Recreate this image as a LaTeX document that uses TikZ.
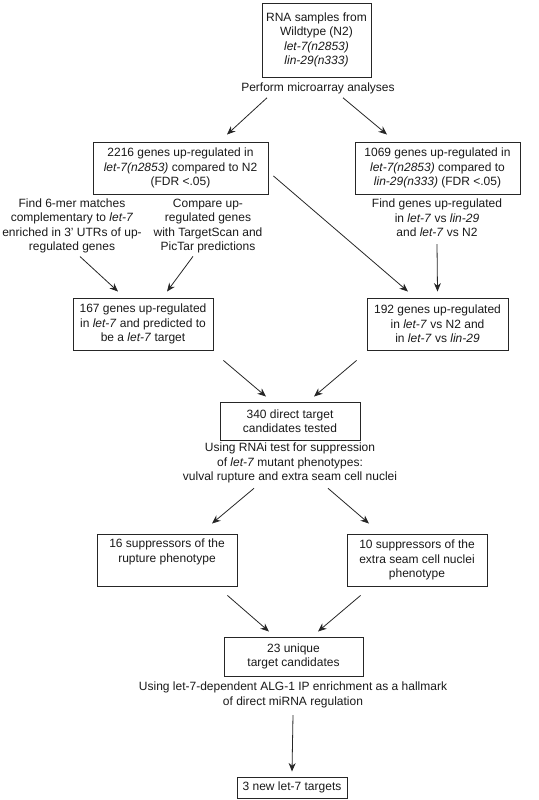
\documentclass[tikz,border=0pt]{standalone}
\usepackage{fontspec}
\setmainfont{Liberation Sans}
\usetikzlibrary{positioning,
	arrows.meta}
\tikzstyle{stage box}=[draw=black!85, line width=0.95pt, align=center, inner sep=0,
	text=black!90, font=\fontsize{12}{14.5}\selectfont]
\tikzstyle{note}=[align=center, inner sep=0, text=black!90,
	font=\fontsize{12}{14.5}\selectfont]
\tikzstyle{sarrow}=[-{Stealth[length=8.5pt,width=7pt]}, draw=black!85, line width=0.8pt]

\begin{document}
\begin{tikzpicture}[x=1pt, y=-1pt]
            \useasboundingbox (0,0) rectangle (538,800);
            % boxes
            \node[stage box, minimum width=109pt, minimum height=74pt] (rna) at (316.5,40)
                {RNA samples from\\Wildtype (N2)\\\textit{let-7(n2853)}\\\textit{lin-29(n333)}};
            \node[stage box, minimum width=175pt, minimum height=52pt] (b2216) at (180.5,168)
                {2216 genes up-regulated in\\\textit{let-7(n2853)} compared to N2\\(FDR <.05)};
            \node[stage box, minimum width=165pt, minimum height=52pt] (b1069) at (437.5,168)
                {1069 genes up-regulated in\\\textit{let-7(n2853)} compared to\\\textit{lin-29(n333)} (FDR <.05)};
            \node[stage box, minimum width=140pt, minimum height=52pt] (b167) at (143,324)
                {167 genes up-regulated\\in \textit{let-7} and predicted to\\be a \textit{let-7} target};
            \node[stage box, minimum width=141pt, minimum height=52pt] (b192) at (437.5,324)
                {192 genes up-regulated\\in \textit{let-7} vs N2 and\\in \textit{let-7} vs \textit{lin-29}};
            \node[stage box, minimum width=140pt, minimum height=38pt] (b340) at (290,421)
                {340 direct target\\candidates tested};
            \node[stage box, minimum width=140pt, minimum height=52pt] (b16) at (167,560)
                {16 suppressors of the\\rupture phenotype\\\strut};
            \node[stage box, minimum width=140pt, minimum height=52pt] (b10) at (417,560)
                {10 suppressors of the\\extra seam cell nuclei\\phenotype};
            \node[stage box, minimum width=139pt, minimum height=39pt] (b23) at (293.5,656.5)
                {23 unique\\target candidates};
            \node[stage box, minimum width=110pt, minimum height=21pt] (b3) at (292,787.5)
                {3 new let-7 targets};
            % step texts
            \node[note] (perform) at (318,88) {Perform microarray analyses};
            \node[note] (find6) at (72,226)
                {Find 6-mer matches\\complementary to \textit{let-7}\\enriched in 3' UTRs of up-\\regulated genes};
            \node[note] (compare) at (208,226)
                {Compare up-\\regulated genes\\with TargetScan and\\PicTar predictions};
            \node[note] (findgenes) at (437,218)
                {Find genes up-regulated\\in \textit{let-7} vs \textit{lin-29}\\and \textit{let-7} vs N2};
            \node[note] (rnai) at (290,463)
                {Using RNAi test for suppression\\of \textit{let-7} mutant phenotypes:\\vulval rupture and extra seam cell nuclei};
            \node[note] (alg) at (293,695)
                {Using let-7-dependent ALG-1 IP enrichment as a hallmark\\of direct miRNA regulation};
            % arrows
            \draw[sarrow] ([xshift=-51pt,yshift=-4pt]perform.south) -- ([xshift=46.5pt,yshift=7pt]b2216.north);
            \draw[sarrow] ([xshift=25pt,yshift=-4pt]perform.south) -- ([xshift=-50.5pt,yshift=7pt]b1069.north);
            \draw[sarrow] ([xshift=5pt,yshift=-8pt]b2216.east) -- ([xshift=-29.5pt,yshift=6pt]b192.north);
            \draw[sarrow] ([yshift=-7pt]findgenes.south) -- ([yshift=6pt]b192.north);
            \draw[sarrow] ([xshift=8pt,yshift=-3pt]find6.south) -- ([xshift=-25pt,yshift=6pt]b167.north);
            \draw[sarrow] ([xshift=-15pt,yshift=-3pt]compare.south) -- ([xshift=24pt,yshift=6pt]b167.north);
            \draw[sarrow] ([xshift=10pt,yshift=-10pt]b167.south east) -- ([xshift=-24pt,yshift=5pt]b340.north);
            \draw[sarrow] ([xshift=-10pt,yshift=-10pt]b192.south west) -- ([xshift=24pt,yshift=5pt]b340.north);
            \draw[sarrow] ([xshift=-36pt,yshift=-5pt]rnai.south) -- ([xshift=45pt,yshift=10pt]b16.north);
            \draw[sarrow] ([xshift=38pt,yshift=-5pt]rnai.south) -- ([xshift=-48pt,yshift=10pt]b10.north);
            \draw[sarrow] ([xshift=-10pt,yshift=-9pt]b16.south east) -- ([xshift=-24.5pt,yshift=5pt]b23.north);
            \draw[sarrow] ([xshift=14pt,yshift=-9pt]b10.south west) -- ([xshift=24.5pt,yshift=5pt]b23.north);
            \draw[sarrow] ([yshift=-7pt]alg.south) -- ([yshift=5pt]b3.north);
        \end{tikzpicture}
\end{document}
